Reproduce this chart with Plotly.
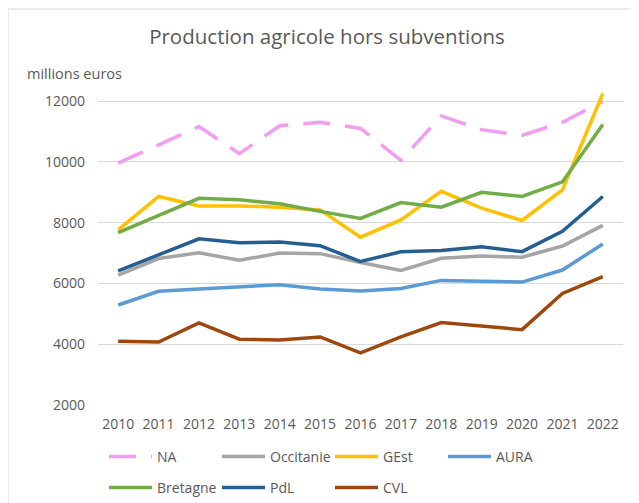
import plotly.graph_objects as go

years = ["2010", "2011", "2012", "2013", "2014", "2015", "2016",
         "2017", "2018", "2019", "2020", "2021", "2022"]

NA = [9960, 10550, 11160, 10270, 11190, 11300, 11100, 10050, 11510, 11060, 10870, 11300, 11990]
Occitanie = [6270, 6820, 7010, 6760, 7000, 6980, 6690, 6430, 6830, 6900, 6860, 7230, 7910]
GEst = [7760, 8860, 8550, 8550, 8510, 8420, 7520, 8090, 9030, 8480, 8070, 9080, 12250]
AURA = [5290, 5740, 5820, 5900, 5955, 5820, 5750, 5835, 6100, 6070, 6045, 6440, 7300]
Bretagne = [7670, 8250, 8800, 8750, 8620, 8370, 8140, 8660, 8510, 9000, 8860, 9340, 11230]
PdL = [6410, 6930, 7470, 7340, 7360, 7240, 6720, 7040, 7080, 7210, 7045, 7715, 8860]
CVL = [4100, 4070, 4700, 4165, 4135, 4240, 3715, 4240, 4710, 4590, 4480, 5670, 6220]

y_ticks = [2000, 4000, 6000, 8000, 10000, 12000]
y_tick_labels = ["2000", "4000", "6000", "8000", "10000", "12000"]

series = [
    ("NA", NA, "#F29CF2", "27px,15px", "legend"),
    ("Occitanie", Occitanie, "#A5A5A5", "solid", "legend"),
    ("GEst", GEst, "#FFC000", "solid", "legend"),
    ("AURA", AURA, "#5B9BD5", "solid", "legend"),
    ("Bretagne", Bretagne, "#70AD47", "solid", "legend2"),
    ("PdL", PdL, "#255E91", "solid", "legend2"),
    ("CVL", CVL, "#9E480E", "solid", "legend2"),
]

FONT = "Open Sans"
TXT = "#595959"

fig = go.Figure()
for name, vals, color, dash, lg in series:
    fig.add_trace(go.Scatter(
        x=years, y=vals, name=name, mode="lines",
        line=dict(color=color, width=3.5, dash=dash),
        legend=lg,
    ))

# The page body adds an 8px offset; reference coordinates are shifted by OFF.
OFF = 8
W, H = 631, 495
L, T = 98 - OFF, 88 - OFF
PR, PB = 623 - OFF, 405 - OFF  # plot right / bottom in figure px
R, B = W - PR, H - PB
pw, ph = PR - L, PB - T

def px(xr):
    return (xr - OFF - L) / pw

def py(yr):
    return (PB - (yr - OFF)) / ph

legend_common = dict(
    orientation="h", xanchor="left", yanchor="middle",
    font=dict(family=FONT, size=14, color=TXT),
    bgcolor="rgba(0,0,0,0)", entrywidth=55, entrywidthmode="pixels",
    itemwidth=43, tracegroupgap=0,
)

fig.update_layout(
    width=W, height=H,
    margin=dict(l=L, r=R, t=T, b=B, autoexpand=False),
    paper_bgcolor="white", plot_bgcolor="white",
    title=dict(text="Production agricole hors subventions",
               x=(327 - OFF) / W, xanchor="center", y=1 - (37 - OFF) / H, yanchor="middle",
               font=dict(family=FONT, size=20.5, color=TXT)),
    xaxis=dict(type="category", range=[-0.5, 12.5],
               showgrid=False, zeroline=False, showline=False,
               tickfont=dict(family=FONT, size=14, color=TXT),
               ticks="", ticklabelstandoff=9, automargin=False),
    yaxis=dict(range=[2000, 12430], tickvals=y_ticks, ticktext=y_tick_labels,
               showgrid=True, gridcolor="#D9D9D9", gridwidth=1,
               zeroline=False, showline=False,
               tickfont=dict(family=FONT, size=14, color=TXT),
               ticks="", ticklabelstandoff=12, automargin=False),
    legend=dict(x=px(104), y=py(457), **legend_common),
    legend2=dict(x=px(104), y=py(488), **legend_common),
    showlegend=True,
    annotations=[dict(text="millions euros", xref="paper", yref="paper",
                      x=px(25), y=py(73), xanchor="left", yanchor="middle",
                      showarrow=False,
                      font=dict(family=FONT, size=14.5, color=TXT))],
    shapes=[
        dict(type="line", xref="paper", yref="paper",
             x0=px(8), x1=px(8), y0=py(9), y1=py(520),
             line=dict(color="#D9D9D9", width=1)),
        dict(type="line", xref="paper", yref="paper",
             x0=px(8), x1=px(660), y0=py(9), y1=py(9),
             line=dict(color="#D9D9D9", width=1)),
    ],
)

fig.write_html("out.html")
